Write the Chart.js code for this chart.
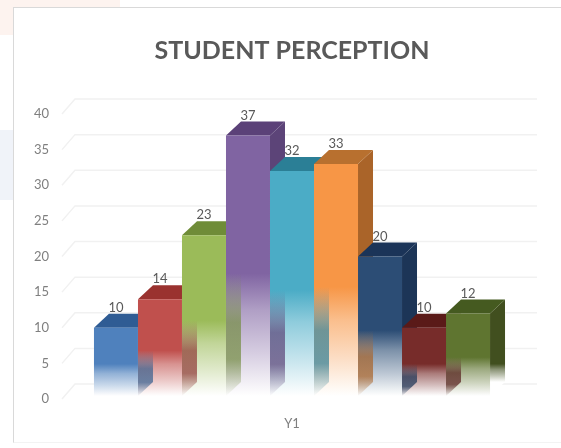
<!DOCTYPE html>
<html>
<head>
  <meta name="viewport" content="width=device-width, initial-scale=1.0">
  <title>Student Perception</title>
  <script src="https://cdn.jsdelivr.net/npm/chart.js"></script>
  <style>
    html, body {
      margin: 0;
      padding: 0;
      width: 561px;
      height: 448px;
      overflow: hidden;
      background: #fff;
    }
    #tint {
      position: absolute;
      left: 0; top: 0;
      width: 561px; height: 448px;
      background:
        linear-gradient(#fdf3ef, #fdf3ef) 0 0 / 120px 35px no-repeat,
        linear-gradient(#f0f3f9, #f0f3f9) 0 130px / 13px 70px no-repeat;
    }
    #frame {
      position: absolute;
      left: 13px; top: 7px;
      width: 560px; height: 434px;
      background: #fff;
      border: 1px solid #d9d9d9;
      border-bottom-color: #f3f3f3;
    }
    canvas {
      position: absolute;
      left: 0; top: 0;
      filter: blur(0.5px);
    }
  </style>
</head>
<body>
  <div id="tint"></div>
  <div id="frame"></div>
  <canvas id="myChart" width="561" height="448"></canvas>

  <script>
    // values
    const categories = ['Y1'];
    const seriesNames = ['S1', 'S2', 'S3', 'S4', 'S5', 'S6', 'S7', 'S8', 'S9'];
    const seriesValues = [10, 14, 23, 37, 32, 33, 20, 10, 12];
    const frontColors = ['#4f81bd', '#c0504d', '#9bbb59', '#8064a2', '#4bacc6', '#f79646', '#2c4d75', '#772c2a', '#5f7530'];
    const topColors = ['#2f5c94', '#9a322f', '#6f8c38', '#5b4178', '#2b7f96', '#b8702f', '#1b3458', '#5a1a18', '#455a20'];
    const sideColors = ['#37608f', '#8f3a37', '#748d42', '#5c4478', '#337f94', '#aa6429', '#1c3557', '#561f1d', '#414f1f'];

    const depthX = 15;
    const depthY = 14;
    const tickFont = 'Lato, "Open Sans", sans-serif';

    function rgbOf(hex) {
      const n = parseInt(hex.slice(1), 16);
      return [n >> 16, (n >> 8) & 255, n & 255];
    }

    function mixWhite(hex, a) {
      const c = rgbOf(hex).map(v => Math.round(v + (255 - v) * a));
      return 'rgb(' + c.join(',') + ')';
    }

    function withAlpha(hex, a) {
      return 'rgba(' + rgbOf(hex).join(',') + ',' + a + ')';
    }

    // solid colour down the upper part of the bar, then a washed out reflection
    function fadeGradient(ctx, top, bottom, hex, startAt) {
      const g = ctx.createLinearGradient(0, top, 0, bottom);
      const rest = 1 - startAt;
      g.addColorStop(0, hex);
      g.addColorStop(startAt, hex);
      g.addColorStop(startAt + rest * 0.3, mixWhite(hex, 0.38));
      g.addColorStop(startAt + rest * 0.65, mixWhite(hex, 0.68));
      g.addColorStop(startAt + rest * 0.92, mixWhite(hex, 0.93));
      g.addColorStop(1, '#ffffff');
      return g;
    }

    function frontFill(context) {
      const chart = context.chart;
      if (!chart.chartArea) return frontColors[context.datasetIndex];
      const y = chart.scales.y;
      const top = y.getPixelForValue(seriesValues[context.datasetIndex]);
      return fadeGradient(chart.ctx, top, y.getPixelForValue(0) - 3, frontColors[context.datasetIndex], 0.53);
    }

    // floor-to-back grid, taken from the y scale
    const backGrid = {
      id: 'backGrid',
      beforeDatasetsDraw(chart) {
        const { ctx, chartArea, scales } = chart;
        ctx.save();
        ctx.strokeStyle = '#f1f1f1';
        ctx.lineWidth = 1.5;
        scales.y.ticks.forEach(t => {
          const py = scales.y.getPixelForValue(t.value);
          ctx.beginPath();
          ctx.moveTo(chartArea.left, py);
          ctx.lineTo(chartArea.left + 13, py - 15);
          ctx.lineTo(chartArea.right + depthX, py - 15);
          ctx.stroke();
        });
        ctx.restore();
      }
    };

    // tops and right sides, drawn under the fronts so the next bar hides them
    const bars3d = {
      id: 'bars3d',
      beforeDatasetsDraw(chart) {
        const { ctx, scales } = chart;
        const base = scales.y.getPixelForValue(0) - 3;
        ctx.save();
        seriesValues.forEach((v, i) => {
          const bar = chart.getDatasetMeta(i).data[0];
          const half = bar.width / 2;
          const l = bar.x - half, r = bar.x + half, t = bar.y;

          ctx.fillStyle = fadeGradient(ctx, t - depthY, base - depthY, sideColors[i], 0.78);
          ctx.beginPath();
          ctx.moveTo(r, t);
          ctx.lineTo(r + depthX, t - depthY);
          ctx.lineTo(r + depthX, base - depthY);
          ctx.lineTo(r, base);
          ctx.closePath();
          ctx.fill();

          ctx.fillStyle = topColors[i];
          ctx.beginPath();
          ctx.moveTo(l, t);
          ctx.lineTo(l + depthX, t - depthY);
          ctx.lineTo(r + depthX, t - depthY);
          ctx.lineTo(r, t);
          ctx.closePath();
          ctx.fill();
        });
        ctx.restore();
      },
      afterDatasetsDraw(chart) {
        const { ctx, scales } = chart;
        const base = scales.y.getPixelForValue(0) - 3;
        ctx.save();
        // strip on the left of each reflection: the side of the previous bar showing through
        seriesValues.forEach((v, i) => {
          if (i === 0) return;
          const bar = chart.getDatasetMeta(i).data[0];
          const l = bar.x - bar.width / 2;
          const start = bar.y + (base - bar.y) * 0.53;
          const prev = sideColors[i - 1];
          const g = ctx.createLinearGradient(0, start, 0, base);
          g.addColorStop(0, withAlpha(prev, 0));
          g.addColorStop(0.4, withAlpha(prev, 0.7));
          g.addColorStop(0.7, withAlpha(prev, 0.72));
          g.addColorStop(1, withAlpha(prev, 0));
          ctx.fillStyle = g;
          ctx.beginPath();
          ctx.moveTo(l, start);
          ctx.lineTo(l + depthX, start);
          ctx.lineTo(l + depthX, base - depthY);
          ctx.lineTo(l, base);
          ctx.closePath();
          ctx.fill();
        });
        // value labels
        ctx.font = '13px ' + tickFont;
        ctx.fillStyle = '#595959';
        ctx.textAlign = 'center';
        ctx.textBaseline = 'middle';
        seriesValues.forEach((v, i) => {
          const bar = chart.getDatasetMeta(i).data[0];
          ctx.fillText(String(v), bar.x, bar.y - 20);
        });
        ctx.restore();
      }
    };

    const ctx = document.getElementById('myChart').getContext('2d');
    new Chart(ctx, {
      type: 'bar',
      data: {
        labels: categories,
        datasets: seriesValues.map((v, i) => ({
          label: seriesNames[i],
          data: [v],
          backgroundColor: frontFill,
          borderWidth: 0,
          barPercentage: 1,
          categoryPercentage: 0.861
        }))
      },
      options: {
        responsive: false,
        animation: false,
        layout: { padding: { left: 13, right: 39, top: 0, bottom: 0 } },
        plugins: {
          legend: { display: false },
          tooltip: { enabled: false },
          title: {
            display: true,
            fullSize: false, // centre over the plot, not the page
            text: 'STUDENT PERCEPTION',
            color: '#595959',
            font: { family: 'Lato, "Open Sans", sans-serif', size: 25, weight: 'bold' },
            padding: { top: 36, bottom: 48 }
          }
        },
        scales: {
          x: {
            grid: { display: false },
            border: { display: false },
            afterFit(scale) { scale.height = 49; },
            ticks: {
              color: '#7f7f7f',
              padding: 9,
              font: { family: tickFont, size: 13 }
            }
          },
          y: {
            min: 0,
            max: 40,
            grid: { display: false },
            border: { display: false },
            afterFit(scale) { scale.width = 49; },
            ticks: {
              stepSize: 5,
              color: '#7f7f7f',
              padding: 5,
              font: { family: tickFont, size: 13 }
            }
          }
        }
      },
      plugins: [backGrid, bars3d]
    });
  </script>
</body>
</html>
